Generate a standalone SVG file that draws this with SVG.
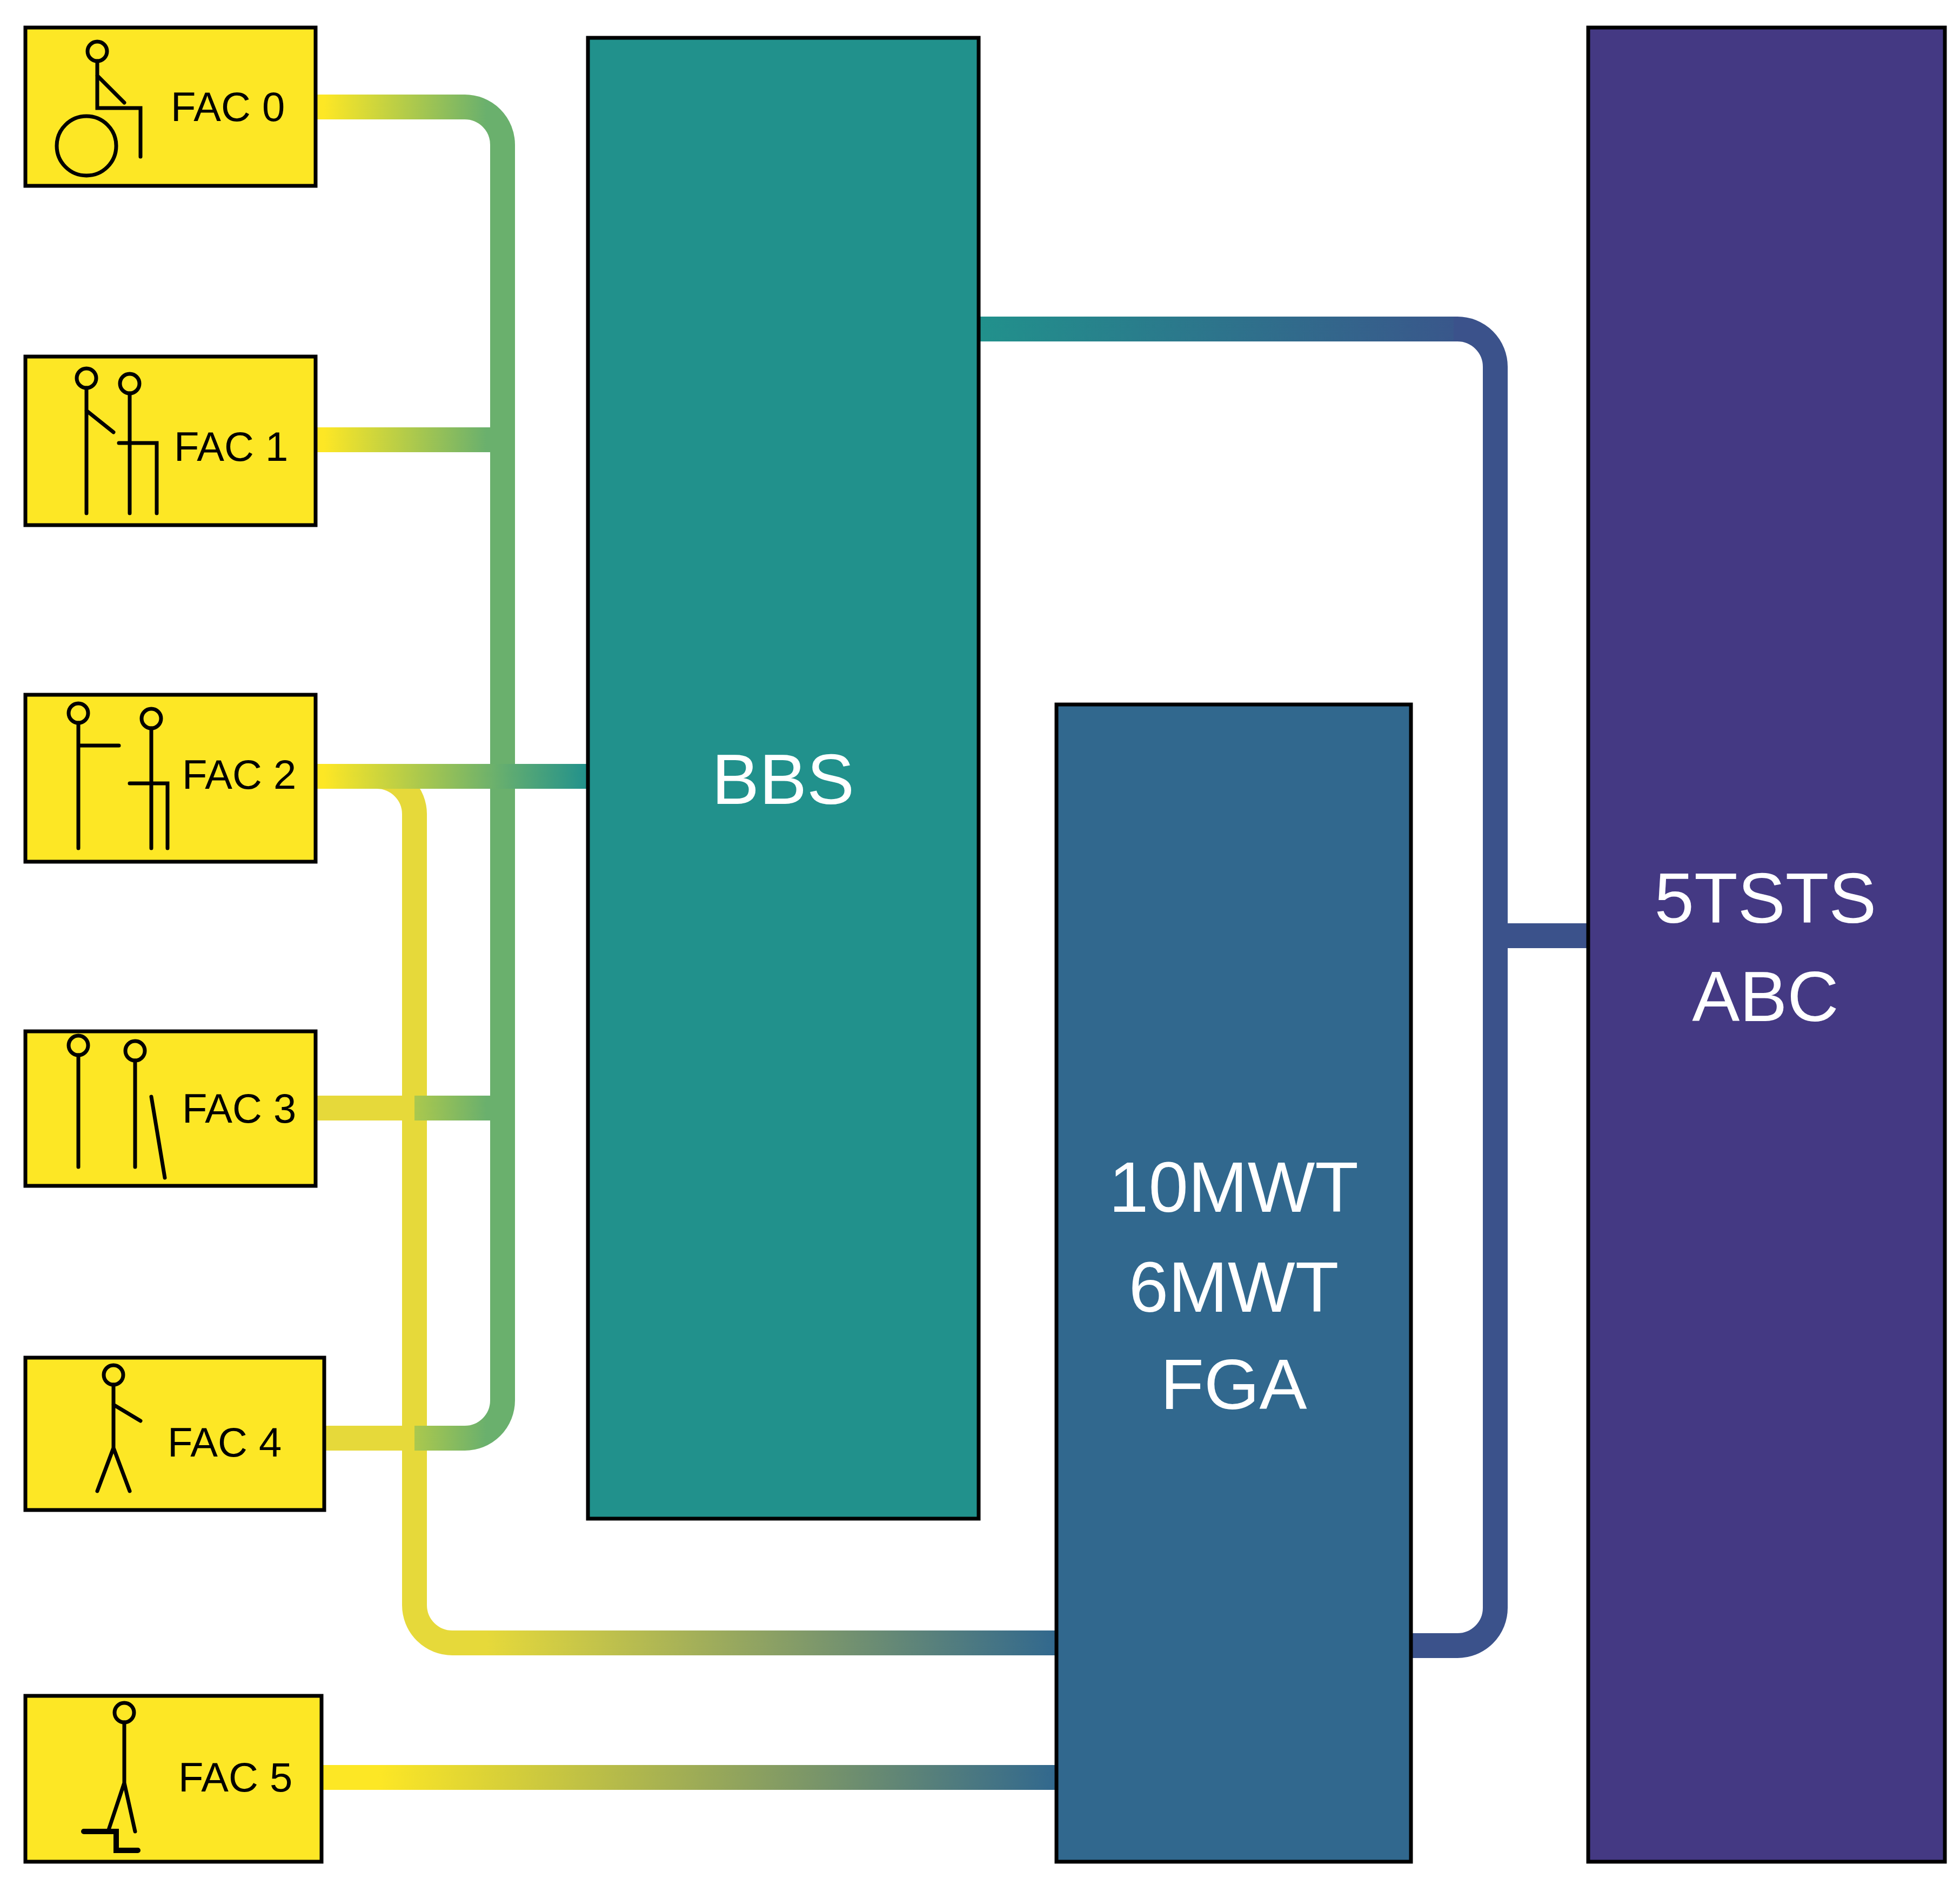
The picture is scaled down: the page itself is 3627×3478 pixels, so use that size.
<svg xmlns="http://www.w3.org/2000/svg" width="3627" height="3478" viewBox="0 0 3627 3478">
<style>
.fac{fill:#fde725;stroke:#000;stroke-width:7}
.big{stroke:#000;stroke-width:7}
.ft{font-family:"Liberation Sans",Arial,sans-serif;font-size:76px;fill:#000}
.bt{font-family:"Liberation Sans",Arial,sans-serif;font-size:132px;fill:#fff;text-anchor:middle}
.c{fill:none;stroke-width:46}
.fig{fill:none;stroke:#000;stroke-width:7;stroke-linecap:round}
</style>
<defs>
<linearGradient id="gG" gradientUnits="userSpaceOnUse" x1="600" y1="0" x2="900" y2="0"><stop offset="0" stop-color="#fde725"/><stop offset="1" stop-color="#6ab06d"/></linearGradient>
<linearGradient id="gT" gradientUnits="userSpaceOnUse" x1="600" y1="0" x2="1088" y2="0"><stop offset="0" stop-color="#fde725"/><stop offset="0.65" stop-color="#6ab06d"/><stop offset="1" stop-color="#21918c"/></linearGradient>
<linearGradient id="gY" gradientUnits="userSpaceOnUse" x1="900" y1="0" x2="1955" y2="0"><stop offset="0" stop-color="#e6d93a"/><stop offset="1" stop-color="#31688e"/></linearGradient>
<linearGradient id="gF" gradientUnits="userSpaceOnUse" x1="700" y1="0" x2="1955" y2="0"><stop offset="0" stop-color="#fde725"/><stop offset="1" stop-color="#31688e"/></linearGradient>
<linearGradient id="gP" gradientUnits="userSpaceOnUse" x1="1811" y1="0" x2="2767" y2="0"><stop offset="0" stop-color="#21918c"/><stop offset="1" stop-color="#3b528b"/></linearGradient>
</defs>
<rect width="3627" height="3478" fill="#fff"/>
<g id="connectors">
<path class="c" stroke="#e6d93a" d="M584,1437 H697 A70,70 0 0 1 767,1507 V2971"/>
<path class="c" stroke="url(#gY)" d="M767,2960 V2971 A70,70 0 0 0 837,3041 H1955"/>
<path class="c" stroke="#e6d93a" d="M584,2051 H767 M600,2662 H767"/>
<path class="c" stroke="url(#gG)" d="M584,198 H860 A70,70 0 0 1 930,268 V2592 A70,70 0 0 1 860,2662 H767"/>
<path class="c" stroke="url(#gG)" d="M584,814 H930 M767,2051 H930"/>
<path class="c" stroke="url(#gT)" d="M584,1437 H1088"/>
<path class="c" stroke="url(#gF)" d="M595,3290 H1955"/>
<path class="c" stroke="url(#gP)" d="M1811,609 H2697"/>
<path class="c" stroke="#3b528b" d="M2690,609 H2697 A70,70 0 0 1 2767,679 V1732 H2939 M2611,3046 H2697 A70,70 0 0 0 2767,2976 V1732"/>
</g>
<g id="fac0"><rect class="fac" x="47" y="51" width="537" height="293"/><text class="ft" x="316" y="224">FAC 0</text>
<g class="fig"><circle cx="160" cy="270" r="55"/><circle cx="180" cy="95" r="18"/><path d="M180,113 V200 H260 V290 M180,140 L230,190"/></g></g>
<g id="fac1"><rect class="fac" x="47" y="660" width="537" height="312"/><text class="ft" x="322" y="853">FAC 1</text>
<g class="fig"><circle cx="160" cy="700" r="18"/><path d="M160,718 V950 M160,760 L210,800"/><circle cx="240" cy="710" r="18"/><path d="M240,728 V950 M220,820 H290 V950"/></g></g>
<g id="fac2"><rect class="fac" x="47" y="1286" width="537" height="309"/><text class="ft" x="337" y="1460">FAC 2</text>
<g class="fig"><circle cx="145" cy="1320" r="18"/><path d="M145,1338 V1570 M145,1380 L220,1380"/><circle cx="280" cy="1330" r="18"/><path d="M280,1348 V1570 M240,1450 H310 V1570"/></g></g>
<g id="fac3"><rect class="fac" x="47" y="1909" width="537" height="286"/><text class="ft" x="337" y="2078">FAC 3</text>
<g class="fig"><circle cx="145" cy="1935" r="18"/><path d="M145,1953 V2160"/><circle cx="250" cy="1945" r="18"/><path d="M250,1963 V2160 M280,2030 L305,2180"/></g></g>
<g id="fac4"><rect class="fac" x="47" y="2513" width="553" height="282"/><text class="ft" x="310" y="2696">FAC 4</text>
<g class="fig"><circle cx="210" cy="2545" r="18"/><path d="M210,2563 V2680 L180,2760 M210,2680 L240,2760 M210,2600 L260,2630"/></g></g>
<g id="fac5"><rect class="fac" x="47" y="3139" width="548" height="307"/><text class="ft" x="330" y="3316">FAC 5</text>
<g class="fig"><circle cx="230" cy="3170" r="18"/><path d="M230,3188 V3300 L200,3390 M230,3300 L250,3390"/><path d="M155,3390 H215 V3425 H255" stroke-width="10"/></g></g>
<g id="bbs"><rect class="big" fill="#21918c" x="1088" y="70" width="723" height="2741"/><text class="bt" x="1449" y="1488">BBS</text></g>
<g id="walk"><rect class="big" fill="#31688e" x="1955" y="1304" width="656" height="2142"/><text class="bt" x="2283" y="2243">10MWT</text><text class="bt" x="2283" y="2428">6MWT</text><text class="bt" x="2283" y="2608">FGA</text></g>
<g id="sts"><rect class="big" fill="#443983" x="2939" y="51" width="660" height="3395"/><text class="bt" x="3267" y="1708">5TSTS</text><text class="bt" x="3267" y="1890">ABC</text></g>
</svg>
